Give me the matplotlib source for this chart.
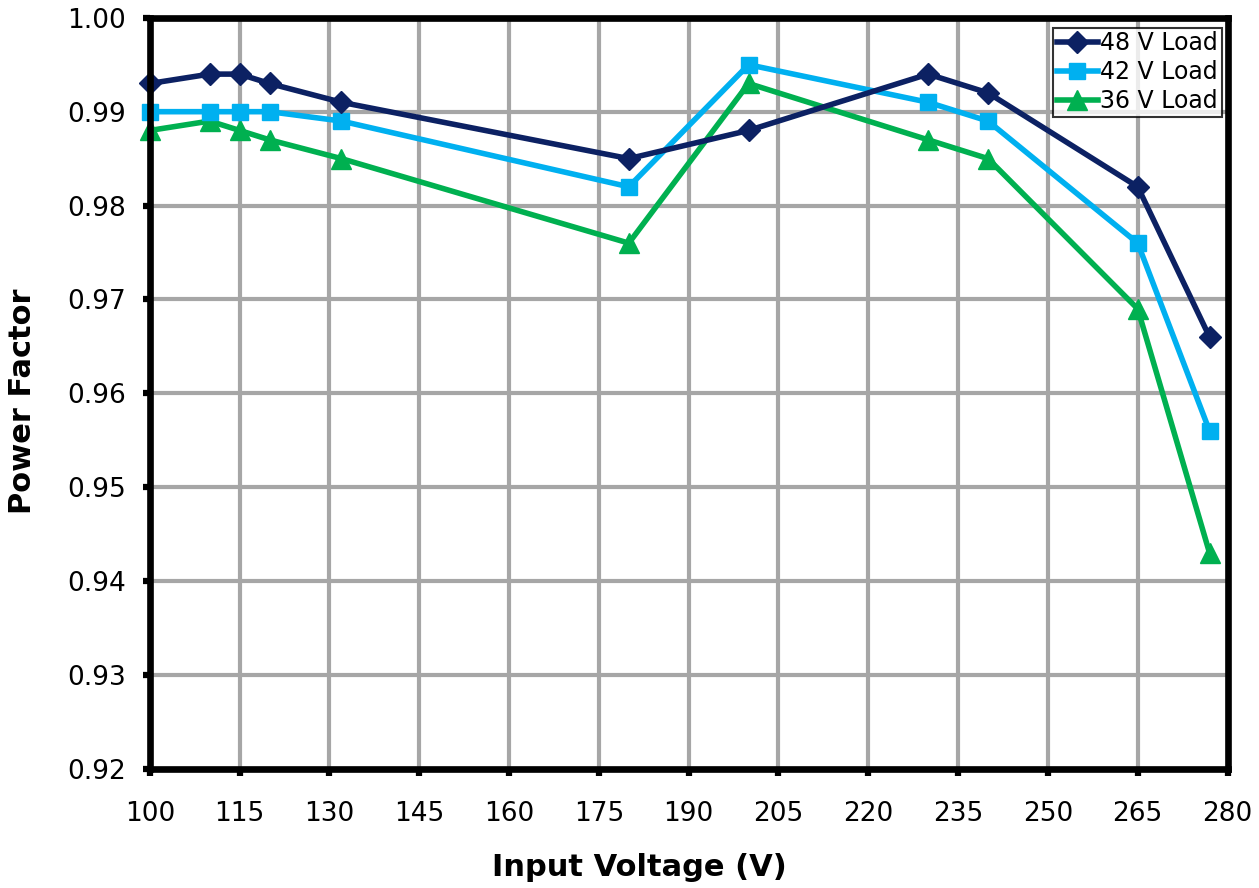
import matplotlib
matplotlib.use("Agg")
import matplotlib.pyplot as plt

voltage = [100, 110, 115, 120, 132, 180, 200, 230, 240, 265, 277]
pf_48v = [0.993, 0.994, 0.994, 0.993, 0.991, 0.985, 0.988, 0.994, 0.992, 0.982, 0.966]
pf_42v = [0.990, 0.990, 0.990, 0.990, 0.989, 0.982, 0.995, 0.991, 0.989, 0.976, 0.956]
pf_36v = [0.988, 0.989, 0.988, 0.987, 0.985, 0.976, 0.993, 0.987, 0.985, 0.969, 0.943]
series_labels = ["48 V Load", "42 V Load", "36 V Load"]
x_ticks = list(range(100, 281, 15))
y_ticks = [0.92, 0.93, 0.94, 0.95, 0.96, 0.97, 0.98, 0.99, 1.00]

plt.rcParams['font.family'] = ['DejaVu Sans']
fig = plt.figure(figsize=(12.59, 8.88), dpi=100)
ax = fig.add_axes([0.119, 0.134, 0.856, 0.846])

ax.plot(voltage, pf_48v, color='#0c2163', lw=4, marker='D', ms=11, label=series_labels[0], clip_on=False, zorder=5)
ax.plot(voltage, pf_42v, color='#00b0f0', lw=4, marker='s', ms=11, label=series_labels[1], clip_on=False, zorder=4)
ax.plot(voltage, pf_36v, color='#00b050', lw=4, marker='^', ms=14, label=series_labels[2], clip_on=False, zorder=3)

ax.set_xlim(100, 280)
ax.set_ylim(0.92, 1.00)
ax.set_xticks(x_ticks)
ax.set_yticks(y_ticks)
ax.set_yticklabels([f"{v:.2f}" for v in y_ticks])
ax.grid(True, color='#a6a6a6', lw=3)
ax.set_axisbelow(True)
for s in ['top', 'right', 'left', 'bottom']:
    ax.spines[s].set_linewidth(4.8)
    ax.spines[s].set_color('black')
    ax.spines[s].set_zorder(6)
ax.tick_params(axis='both', direction='out', length=5, width=4.5, labelsize=19)
ax.tick_params(axis='x', pad=18)
ax.tick_params(axis='y', pad=12)

ax.set_xlabel('Input Voltage (V)', fontsize=22, fontweight='bold')
ax.xaxis.set_label_coords(0.4545, -0.112)
ax.set_ylabel('Power Factor', fontsize=22, fontweight='bold')
ax.yaxis.set_label_coords(-0.105, 0.49)

leg = ax.legend(loc='upper right', bbox_to_anchor=(0.9945, 0.987), fontsize=17, frameon=True,
                fancybox=False, edgecolor='black', borderpad=0.15, labelspacing=0.22,
                handlelength=1.75, handletextpad=0.1, borderaxespad=0.0)
leg.get_frame().set_linewidth(1.5)
leg.set_zorder(10)

fig.savefig('out.png', dpi=100, facecolor='white')
